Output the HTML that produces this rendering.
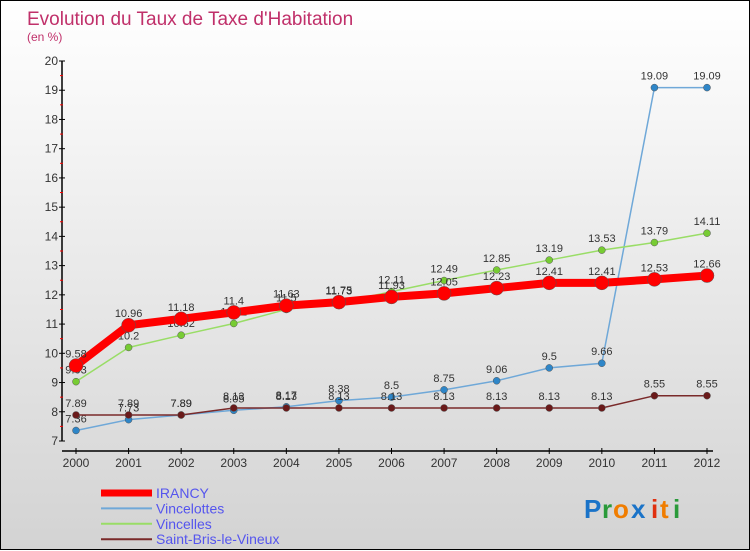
<!DOCTYPE html>
<html><head><meta charset="utf-8"><style>
body{margin:0;width:750px;height:550px;overflow:hidden}
#c{position:absolute;left:0;top:0;width:748px;height:548px;border:1px solid #000;background:linear-gradient(#fff,#d3d3d3)}
svg{position:absolute;left:0;top:0}
text{font-family:"Liberation Sans",sans-serif}
</style></head><body><div id="c">
<svg id="s" width="750" height="550">
<text x="26" y="24" font-size="19" fill="#c0306a">Evolution du Taux de Taxe d'Habitation</text>
<text x="26" y="40" font-size="12" fill="#c0306a">(en %)</text>
<g id="ax"></g><g id="pl"></g><g id="lg"></g>
<g font-size="26" font-weight="bold">
<text x="583" y="517" fill="#1a73c8">P</text><text x="601" y="517" fill="#2a9a3a">r</text><text x="612" y="517" fill="#f07d00">o</text><text x="630" y="517" fill="#1a73c8">x</text><text x="650" y="517" fill="#e03010">i</text><text x="659" y="517" fill="#f07d00">t</text><text x="672" y="517" fill="#2a9a3a">i</text>
</g>
</svg></div>
<script>
const years=[2000,2001,2002,2003,2004,2005,2006,2007,2008,2009,2010,2011,2012];
const irancy=[9.58,10.96,11.18,11.4,11.63,11.75,11.93,12.05,12.23,12.41,12.41,12.53,12.66];
const vincelottes=[7.36,7.73,7.89,8.05,8.17,8.38,8.5,8.75,9.06,9.5,9.66,19.09,19.09];
const vincelles=[9.03,10.2,10.62,11.02,11.5,11.73,12.11,12.49,12.85,13.19,13.53,13.79,14.11];
const saintBris=[7.89,7.89,7.89,8.13,8.13,8.13,8.13,8.13,8.13,8.13,8.13,8.55,8.55];
const yTicks=[7,8,9,10,11,12,13,14,15,16,17,18,19,20];
const NS="http://www.w3.org/2000/svg";
const X=i=>75+i*(706-75)/(years.length-1);
const Y=v=>440-(v-7)*(380/13);
function mk(t,a,p){const e=document.createElementNS(NS,t);for(const k in a)e.setAttribute(k,a[k]);p.appendChild(e);return e;}
const ax=document.getElementById('ax'),pl=document.getElementById('pl'),lg=document.getElementById('lg');
let l=mk('line',{x1:61,y1:Y(20),x2:61,y2:440,stroke:'#000','stroke-width':1.5},ax);


l=mk('line',{x1:61,y1:450,x2:712,y2:450,stroke:'#000','stroke-width':1.5},ax);


yTicks.forEach(v=>{mk('line',{x1:58,y1:Y(v),x2:64,y2:Y(v),stroke:'#000'},ax);
if(v<20)mk('line',{x1:59,y1:Y(v+0.5),x2:62,y2:Y(v+0.5),stroke:'#f00'},ax);
const t=mk('text',{x:57,y:Y(v)+4,'font-size':12,'text-anchor':'end',fill:'#333'},ax);t.textContent=v;

});
years.forEach((y,i)=>{mk('line',{x1:X(i),y1:447,x2:X(i),y2:453,stroke:'#000'},ax);
const t=mk('text',{x:X(i),y:466,'font-size':12,'text-anchor':'middle',fill:'#333'},ax);t.textContent=y;

});
const series=[
{n:'vincelottes',d:vincelottes,c:'#6fa8d8',p:'#2e86c8',w:1.5,r:3.5},
{n:'vincelles',d:vincelles,c:'#99dd66',p:'#77cc33',w:1.5,r:3.5},
{n:'saint-bris',d:saintBris,c:'#7a2a2a',p:'#6a1a1a',w:1.5,r:3.5},
{n:'irancy',d:irancy,c:'#f00',p:'#f00',w:8,r:7}];
series.forEach(s=>{const g=mk('g',{},pl);


const pts=s.d.map((v,i)=>X(i)+','+Y(v)).join(' ');
mk('polyline',{points:pts,fill:'none',stroke:s.c,'stroke-width':s.w},g);
s.d.forEach((v,i)=>{const c=mk('circle',{cx:X(i),cy:Y(v),r:s.r,fill:s.p,stroke:'#555','stroke-width':0.5},g);


const t=mk('text',{x:X(i),y:Y(v)-8,'font-size':11,'text-anchor':'middle',fill:'#333'},g);t.textContent=v;});});
const leg=[['IRANCY','#f00',7],['Vincelottes','#6fa8d8',2],['Vincelles','#99dd66',2],['Saint-Bris-le-Vineux','#7a2a2a',2]];
leg.forEach((e,i)=>{const y=492+i*15.4;const g=mk('g',{},lg);


mk('line',{x1:100,y1:y,x2:151,y2:y,stroke:e[1],'stroke-width':e[2]},g);
const t=mk('text',{x:155,y:y+5,'font-size':14,fill:'#5555ee'},g);t.textContent=e[0];});
</script></body></html>
